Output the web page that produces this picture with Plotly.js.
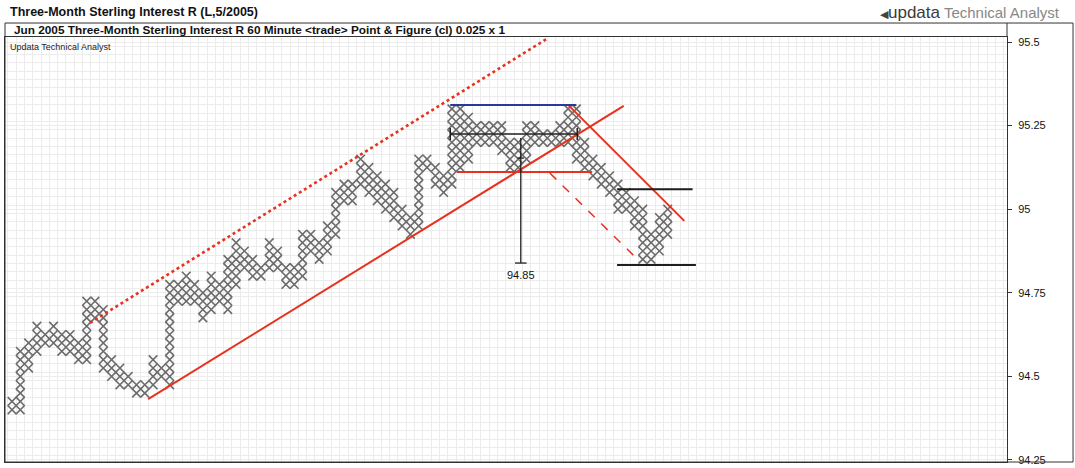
<!DOCTYPE html>
<html>
<head>
<meta charset="utf-8">
<script src="https://cdn.plot.ly/plotly-3.0.1.min.js"></script>
<style>
html,body{margin:0;padding:0;background:#fff;}
#chart{width:1075px;height:468px;}
</style>
</head>
<body>
<div id="chart"></div>
<script>
// ---- Point & Figure columns (box size 0.025, 1-box reversal) ----
const boxSize = 0.025;
const colLow = [
  94.400, 94.400, 94.525, 94.575, 94.600, 94.600, 94.575, 94.575, 94.550, 94.550,
  94.675, 94.525, 94.500, 94.475, 94.475, 94.450, 94.450, 94.475, 94.500, 94.475,
  94.725, 94.725, 94.725, 94.675, 94.700, 94.725, 94.700, 94.775, 94.825, 94.800,
  94.800, 94.825, 94.825, 94.775, 94.775, 94.800, 94.875, 94.850, 94.875, 94.925,
  95.025, 95.025, 95.075, 95.050, 95.025, 95.000, 94.975, 94.950, 94.925, 94.950,
  95.125, 95.075, 95.050, 95.075, 95.125, 95.150, 95.200, 95.200, 95.200, 95.175,
  95.125, 95.125, 95.150, 95.200, 95.200, 95.200, 95.200, 95.200, 95.150, 95.125,
  95.100, 95.075, 95.050, 95.000, 95.000, 94.950, 94.850, 94.850, 94.875, 94.925
];
const colHigh = [
  94.425, 94.575, 94.600, 94.650, 94.625, 94.650, 94.625, 94.625, 94.600, 94.725,
  94.725, 94.700, 94.550, 94.525, 94.500, 94.475, 94.475, 94.550, 94.525, 94.775,
  94.775, 94.800, 94.775, 94.750, 94.800, 94.775, 94.850, 94.900, 94.875, 94.850,
  94.825, 94.900, 94.875, 94.825, 94.825, 94.925, 94.925, 94.900, 94.950, 95.050,
  95.075, 95.075, 95.150, 95.125, 95.100, 95.075, 95.050, 95.000, 94.975, 95.150,
  95.150, 95.125, 95.100, 95.300, 95.300, 95.275, 95.250, 95.250, 95.250, 95.250,
  95.200, 95.200, 95.250, 95.250, 95.225, 95.225, 95.250, 95.300, 95.300, 95.200,
  95.150, 95.125, 95.100, 95.075, 95.050, 95.025, 95.000, 94.925, 94.975, 95.000
];

// ---- Y axis ticks ----
const yTickVals = [94.25, 94.5, 94.75, 95, 95.25, 95.5];
const yTickText = ["94.25", "94.5", "94.75", "95", "95.25", "95.5"];

// ---- Drawn study lines (column index, price) ----
const upTrendX = [16.4, 73.7],    upTrendY = [94.432, 95.309];
const upChannelX = [9.4, 64.6],   upChannelY = [94.660, 95.512];
const downTrendX = [67.0, 81.0],  downTrendY = [95.312, 94.965];
const downDashX = [64.8, 75.7],   downDashY = [95.108, 94.842];
const redLevelX = [53.6, 69.9],   redLevelY = [95.111, 95.111];
const blueTopX = [52.8, 68.0],    blueTopY = [95.312, 95.312];
const rangeBarX = [52.8, 68.1],   rangeBarY = [95.225, 95.225];
const capLeftX = [52.8, 52.8],    capLeftY = [95.207, 95.243];
const capRightX = [68.1, 68.1],   capRightY = [95.207, 95.243];
const measureX = [61.3, 61.3],    measureY = [95.213, 94.839];
const measureCapX = [60.6, 62.0], measureCapY = [94.839, 94.839];
const measureTickX = [60.9, 61.7], measureTickY = [95.153, 95.153];
const blackHiX = [72.9, 82.0],    blackHiY = [95.060, 95.060];
const blackLoX = [72.9, 82.4],    blackLoY = [94.833, 94.833];
const targetLabel = "94.85";
const targetLabelPos = [61.3, 94.803];

// ---- build box marks from the column ranges ----
const boxX = [], boxY = [];
for (let i = 0; i < colLow.length; i++) {
  const n = Math.round((colHigh[i] - colLow[i]) / boxSize);
  for (let j = 0; j <= n; j++) {
    boxX.push(i);
    boxY.push(+(colLow[i] + j * boxSize).toFixed(3));
  }
}

const RED = '#e6321e', BLUE = '#28389c', BLK = '#1e1e1e';
function line(x, y, color, width, dash) {
  return {type: 'scatter', mode: 'lines', x: x, y: y, hoverinfo: 'skip',
          line: {color: color, width: width, dash: dash || 'solid'}, cliponaxis: true};
}

const traces = [
  {type: 'scatter', mode: 'markers', x: boxX, y: boxY, hoverinfo: 'skip',
   marker: {symbol: 'x-thin-open', size: 8.6, color: '#6c6c6c',
            line: {color: '#6c6c6c', width: 1.6}}},
  line(upChannelX, upChannelY, RED, 2.6, 'dot'),
  line(upTrendX, upTrendY, RED, 2),
  line(downTrendX, downTrendY, RED, 2),
  line(downDashX, downDashY, RED, 1.5, 'dash'),
  line(redLevelX, redLevelY, RED, 2),
  line(blueTopX, blueTopY, BLUE, 2),
  line(rangeBarX, rangeBarY, BLK, 1.5),
  line(capLeftX, capLeftY, BLK, 1.5),
  line(capRightX, capRightY, BLK, 1.5),
  line(measureX, measureY, BLK, 1.3),
  line(measureCapX, measureCapY, BLK, 1.3),
  line(measureTickX, measureTickY, BLK, 1.3),
  line(blackHiX, blackHiY, BLK, 2),
  line(blackLoX, blackLoY, BLK, 2)
];

const NARROW = '"Liberation Sans Narrow", "Arial Narrow", "Liberation Sans", Arial, sans-serif';
const SANS = '"Liberation Sans", Arial, sans-serif';
const GRID = '#ececec';

const layout = {
  width: 1075, height: 468,
  margin: {l: 5, r: 68, t: 37, b: 6},
  paper_bgcolor: '#ffffff', plot_bgcolor: '#ffffff',
  showlegend: false,
  xaxis: {
    range: [-0.843, 119.88], showticklabels: false, ticks: '',
    showgrid: true, tick0: 0.5, dtick: 1, gridcolor: GRID, gridwidth: 1,
    zeroline: false, showline: true, linecolor: '#333', linewidth: 1, mirror: true, fixedrange: true
  },
  yaxis: {
    range: [94.244, 95.515], side: 'right',
    tickmode: 'array', tickvals: yTickVals, ticktext: yTickText,
    ticks: 'outside', ticklen: 4, tickcolor: '#333', ticklabelstandoff: 4,
    tickfont: {family: SANS, size: 11, color: '#111'},
    showgrid: true, gridcolor: GRID, gridwidth: 1,
    minor: {dtick: 0.025, tick0: 94.2375, showgrid: true, gridcolor: GRID, gridwidth: 1, ticks: ''},
    zeroline: false, showline: true, linecolor: '#333', linewidth: 1, mirror: true, fixedrange: true
  },
  shapes: [
    {type: 'rect', xref: 'paper', yref: 'paper', x0: 0, x1: 1.0659, y0: 0, y1: 1.0329,
     line: {color: '#333', width: 1}, fillcolor: 'rgba(0,0,0,0)', layer: 'above'},
    {type: 'line', xref: 'paper', yref: 'paper', x0: 1, x1: 1, y0: 1, y1: 1.0329,
     line: {color: '#333', width: 1}}
  ],
  annotations: [
    {xref: 'paper', yref: 'paper', x: 0.003, y: 1.0588, xanchor: 'left', yanchor: 'middle',
     showarrow: false, text: '<b>Three-Month Sterling Interest R (L,5/2005)</b>',
     font: {family: NARROW, size: 12.5, color: '#111'}},
    {xref: 'paper', yref: 'paper', x: 0.007, y: 1.0165, xanchor: 'left', yanchor: 'middle',
     showarrow: false, text: '<b>Jun 2005 Three-Month Sterling Interest R 60 Minute &lt;trade&gt; Point &amp; Figure (cl) 0.025 x 1</b>',
     font: {family: NARROW, size: 11.8, color: '#111'}},
    {xref: 'paper', yref: 'paper', x: 0.003, y: 0.9765, xanchor: 'left', yanchor: 'middle',
     showarrow: false, text: 'Updata Technical Analyst',
     font: {family: NARROW, size: 9, color: '#222'}},
    {xref: 'paper', yref: 'paper', x: 1.0549, y: 1.0588, xanchor: 'right', yanchor: 'middle',
     showarrow: false,
     text: '<span style="color:#444;font-size:11px">◀</span><span style="color:#3a3a3a;font-size:17px">updata</span> <span style="color:#888">Technical Analyst</span>',
     font: {family: SANS, size: 15, color: '#555'}},
    {xref: 'x', yref: 'y', x: targetLabelPos[0], y: targetLabelPos[1], xanchor: 'center', yanchor: 'middle',
     showarrow: false, text: targetLabel, font: {family: SANS, size: 11, color: '#111'}}
  ]
};

Plotly.newPlot('chart', traces, layout, {staticPlot: true, displayModeBar: false});
</script>
</body>
</html>
